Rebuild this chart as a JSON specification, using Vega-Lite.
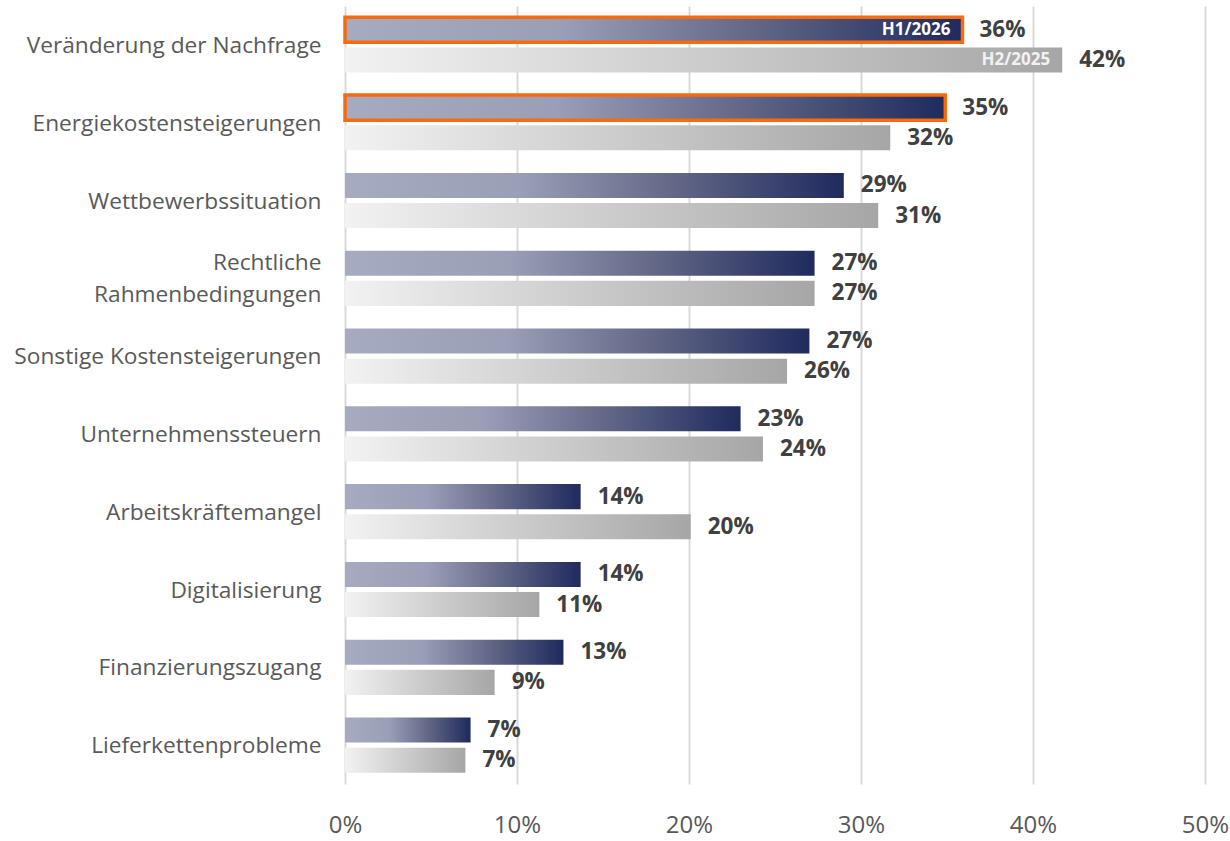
{
  "$schema": "https://vega.github.io/schema/vega-lite/v6.json",
  "width": 860,
  "height": 778,
  "autosize": "none",
  "padding": {"left": 345, "top": 6, "right": 25, "bottom": 57},
  "background": "white",
  "config": {"view": {"stroke": null}, "font": "Open Sans"},
  "data": {
    "values": [
      {"category": "Veränderung der Nachfrage", "series": "H1/2026", "value": 0.359, "inner": "H1/2026"},
      {"category": "Veränderung der Nachfrage", "series": "H2/2025", "value": 0.417, "inner": "H2/2025"},
      {"category": "Energiekostensteigerungen", "series": "H1/2026", "value": 0.349, "inner": ""},
      {"category": "Energiekostensteigerungen", "series": "H2/2025", "value": 0.317, "inner": ""},
      {"category": "Wettbewerbssituation", "series": "H1/2026", "value": 0.290, "inner": ""},
      {"category": "Wettbewerbssituation", "series": "H2/2025", "value": 0.310, "inner": ""},
      {"category": "Rechtliche Rahmenbedingungen", "series": "H1/2026", "value": 0.273, "inner": ""},
      {"category": "Rechtliche Rahmenbedingungen", "series": "H2/2025", "value": 0.273, "inner": ""},
      {"category": "Sonstige Kostensteigerungen", "series": "H1/2026", "value": 0.270, "inner": ""},
      {"category": "Sonstige Kostensteigerungen", "series": "H2/2025", "value": 0.257, "inner": ""},
      {"category": "Unternehmenssteuern", "series": "H1/2026", "value": 0.230, "inner": ""},
      {"category": "Unternehmenssteuern", "series": "H2/2025", "value": 0.243, "inner": ""},
      {"category": "Arbeitskräftemangel", "series": "H1/2026", "value": 0.137, "inner": ""},
      {"category": "Arbeitskräftemangel", "series": "H2/2025", "value": 0.201, "inner": ""},
      {"category": "Digitalisierung", "series": "H1/2026", "value": 0.137, "inner": ""},
      {"category": "Digitalisierung", "series": "H2/2025", "value": 0.113, "inner": ""},
      {"category": "Finanzierungszugang", "series": "H1/2026", "value": 0.127, "inner": ""},
      {"category": "Finanzierungszugang", "series": "H2/2025", "value": 0.087, "inner": ""},
      {"category": "Lieferkettenprobleme", "series": "H1/2026", "value": 0.073, "inner": ""},
      {"category": "Lieferkettenprobleme", "series": "H2/2025", "value": 0.070, "inner": ""}
    ]
  },
  "encoding": {
    "y": {
      "field": "category",
      "type": "nominal",
      "sort": null,
      "scale": {"paddingInner": 0.29, "paddingOuter": 0.145},
      "axis": {
        "title": null,
        "domain": false,
        "ticks": false,
        "labelFontSize": 22.7,
        "labelColor": "#595959",
        "labelPadding": 24,
        "labelLimit": 400,
        "labelLineHeight": 32,
        "labelOffset": {"condition": {"test": "datum.value == 'Rechtliche Rahmenbedingungen'", "value": -15}, "value": 1},
        "labelExpr": "datum.value == 'Rechtliche Rahmenbedingungen' ? ['Rechtliche', 'Rahmenbedingungen'] : datum.value"
      }
    },
    "yOffset": {
      "field": "series",
      "type": "nominal",
      "sort": ["H1/2026", "H2/2025"],
      "scale": {"paddingInner": 0.17}
    },
    "x": {
      "field": "value",
      "type": "quantitative",
      "scale": {"domain": [0, 0.5], "nice": false},
      "axis": {
        "title": null,
        "format": ".0%",
        "values": [0, 0.1, 0.2, 0.3, 0.4, 0.5],
        "domain": false,
        "ticks": false,
        "grid": true,
        "gridColor": "#d9d9d9",
        "gridWidth": 2,
        "labelFontSize": 24,
        "labelColor": "#595959",
        "labelPadding": 29,
        "labelFlush": false
      }
    }
  },
  "layer": [
    {
      "mark": {"type": "bar", "cornerRadius": 0},
      "encoding": {
        "fill": {
          "condition": {
            "test": "datum.series == 'H1/2026'",
            "value": {
              "gradient": "linear", "x1": 0, "x2": 1, "y1": 0, "y2": 0,
              "stops": [
                {"offset": 0, "color": "#a7abc1"},
                {"offset": 0.35, "color": "#9a9eb6"},
                {"offset": 0.68, "color": "#5f6484"},
                {"offset": 1, "color": "#1f2a5e"}
              ]
            }
          },
          "value": {
            "gradient": "linear", "x1": 0, "x2": 1, "y1": 0, "y2": 0,
            "stops": [
              {"offset": 0, "color": "#f2f2f2"},
              {"offset": 1, "color": "#a6a6a6"}
            ]
          }
        },
        "stroke": {
          "condition": {
            "test": "datum.series == 'H1/2026' && (datum.category == 'Veränderung der Nachfrage' || datum.category == 'Energiekostensteigerungen')",
            "value": "#f96a0f"
          },
          "value": null
        },
        "strokeWidth": {"value": 3.5}
      }
    },
    {
      "mark": {"type": "text", "align": "left", "baseline": "middle", "dx": 17, "fontSize": 22.5, "fontWeight": "bold", "color": "#404040"},
      "encoding": {
        "text": {"field": "value", "type": "quantitative", "format": ".0%"}
      }
    },
    {
      "mark": {"type": "text", "align": "right", "baseline": "middle", "dx": -12, "fontSize": 17, "fontWeight": "bold"},
      "encoding": {
        "text": {"field": "inner", "type": "nominal"},
        "color": {
          "condition": {"test": "datum.series == 'H1/2026'", "value": "#ffffff"},
          "value": "#f2f2f2"
        }
      }
    }
  ]
}
